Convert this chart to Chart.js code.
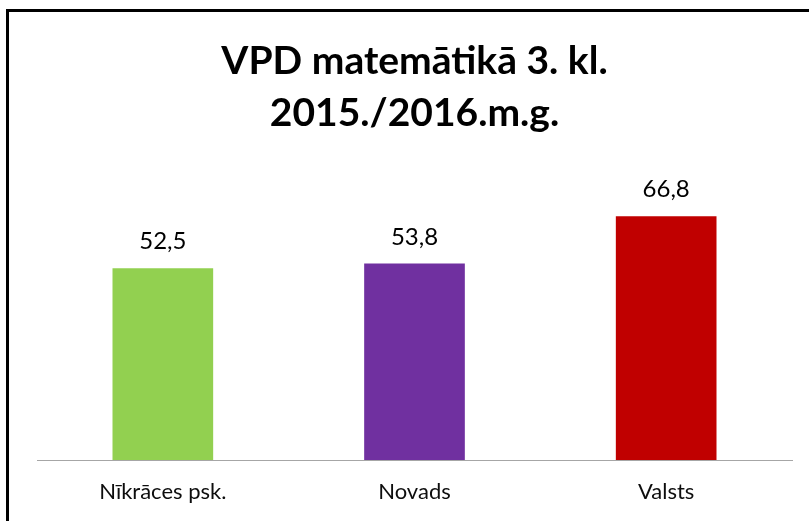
<!DOCTYPE html>
<html>
<head>
<meta charset="utf-8">
<script src="https://cdn.jsdelivr.net/npm/chart.js@4.4.0/dist/chart.umd.min.js"></script>
<style>
  html, body { margin: 0; padding: 0; background: #fff; }
  #wrap { position: relative; width: 809px; height: 521px; overflow: hidden; }
  #frame { position: absolute; left: 6px; top: 9px; width: 900px; height: 600px;
           border-left: 3px solid #000; border-top: 3px solid #000; box-sizing: border-box; pointer-events: none; }
  canvas { position: absolute; left: 0; top: 0; }
</style>
</head>
<body>
<div id="wrap">
  <canvas id="c" width="809" height="521"></canvas>
  <div id="frame"></div>
</div>
<script>
const categories = ["Nīkrāces psk.", "Novads", "Valsts"];
const values = [52.5, 53.8, 66.8];
const barColors = ["#92D050", "#7030A0", "#C00000"];
const titleLines = ["VPD matemātikā 3. kl.", "2015./2016.m.g."];

const valueLabels = {
  id: 'valueLabels',
  afterDatasetsDraw(chart) {
    const ctx = chart.ctx;
    const meta = chart.getDatasetMeta(0);
    ctx.save();
    ctx.font = '24px Lato';
    ctx.fillStyle = '#000';
    ctx.textAlign = 'center';
    ctx.textBaseline = 'alphabetic';
    meta.data.forEach((bar, i) => {
      ctx.fillText(String(values[i]).replace('.', ','), bar.x, bar.y - 19);
    });
    ctx.restore();
  }
};

new Chart(document.getElementById('c'), {
  type: 'bar',
  data: {
    labels: categories,
    datasets: [{
      data: values,
      backgroundColor: barColors,
      borderWidth: 0,
      categoryPercentage: 1.0,
      barPercentage: 0.4
    }]
  },
  options: {
    responsive: false,
    animation: false,
    layout: { padding: { left: 37, right: 17, top: 0, bottom: -3 } },
    plugins: {
      legend: { display: false },
      tooltip: { enabled: false },
      title: {
        display: true,
        text: titleLines,
        color: '#000',
        font: { family: 'Lato', size: 39, weight: 'bold', lineHeight: 1.333 },
        padding: { top: 35, bottom: 29 }
      }
    },
    scales: {
      x: {
        grid: { display: false, drawTicks: false },
        border: { display: true, color: '#A6A6A6', width: 1 },
        ticks: { color: '#0d0d0d', font: { family: 'Lato', size: 22, lineHeight: 1.0 }, padding: 21 }
      },
      y: {
        display: false,
        min: 0,
        max: 80
      }
    }
  },
  plugins: [valueLabels]
});
</script>
</body>
</html>
